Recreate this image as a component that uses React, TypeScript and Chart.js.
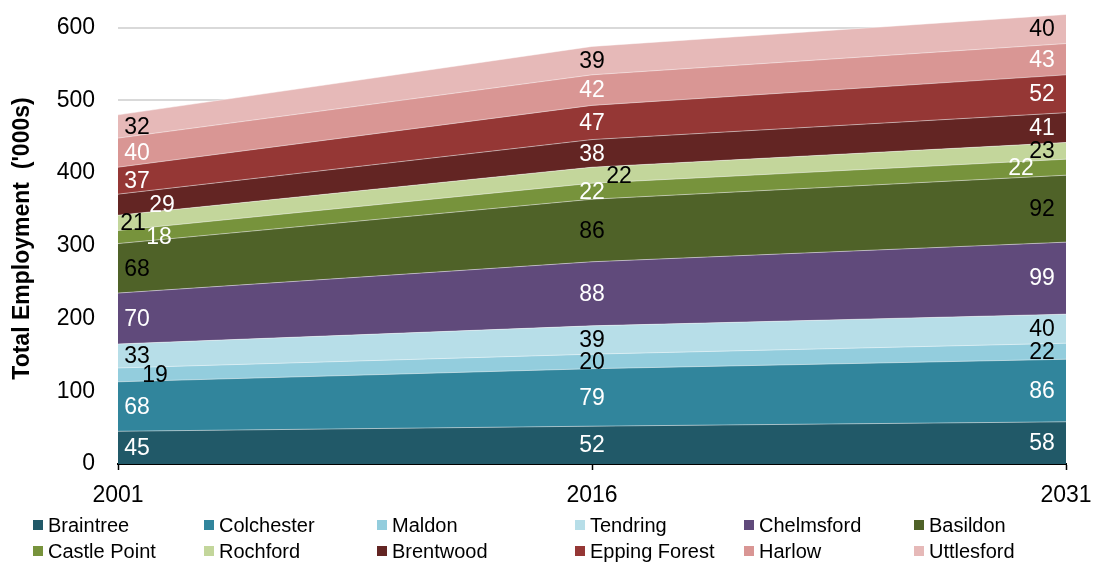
import React, { useEffect, useRef } from "react";
import { Chart, registerables } from "chart.js";

Chart.register(...registerables);

const years = ["2001", "2016", "2031"];

const braintree = [45, 52, 58];
const colchester = [68, 79, 86];
const maldon = [19, 20, 22];
const tendring = [33, 39, 40];
const chelmsford = [70, 88, 99];
const basildon = [68, 86, 92];
const castlePoint = [18, 22, 22];
const rochford = [21, 22, 23];
const brentwood = [29, 38, 41];
const eppingForest = [37, 47, 52];
const harlow = [40, 42, 43];
const uttlesford = [32, 39, 40];

const seriesNames = [
  "Braintree", "Colchester", "Maldon", "Tendring", "Chelmsford", "Basildon",
  "Castle Point", "Rochford", "Brentwood", "Epping Forest", "Harlow", "Uttlesford",
];
const seriesData = [
  braintree, colchester, maldon, tendring, chelmsford, basildon,
  castlePoint, rochford, brentwood, eppingForest, harlow, uttlesford,
];
const seriesColors = [
  "#215968", "#31859C", "#93CDDD", "#B7DEE8", "#604A7B", "#4F6228",
  "#77933C", "#C3D69B", "#632523", "#953735", "#D99694", "#E6B9B8",
];
const labelColors = [
  "#fff", "#fff", "#000", "#000", "#fff", "#000",
  "#fff", "#000", "#fff", "#fff", "#fff", "#000",
];

const yTickValues = [0, 100, 200, 300, 400, 500, 600];
const yAxisMax = 620;

const FONT = '"Liberation Sans", Arial, sans-serif';

// label placement tweaks (horizontal shift in px relative to default)
const baseDx = [19, 0, -24];
const labelShift: Record<string, number> = {
  "2-0": 18,
  "6-0": 22,
  "7-0": -4,
  "8-0": 25,
  "7-1": 27,
  "6-2": -21,
};

const legendCols = [33, 204, 377, 575, 744, 914];
const legendRows = [526, 552];

const labelPlugin = {
  id: "areaLabels",
  afterDatasetsDraw(chart: any) {
    const ctx = chart.ctx;
    const xs = chart.scales.x;
    const ys = chart.scales.y;
    ctx.save();
    ctx.font = `23px ${FONT}`;
    ctx.textAlign = "center";
    ctx.textBaseline = "middle";
    const cum = years.map(() => 0);
    seriesData.forEach((arr, si) => {
      arr.forEach((v, i) => {
        const mid = cum[i] + v / 2;
        cum[i] += v;
        const px = xs.getPixelForValue(i) + baseDx[i] + (labelShift[`${si}-${i}`] || 0);
        const py = ys.getPixelForValue(mid) + 1;
        ctx.fillStyle = labelColors[si];
        ctx.fillText(String(v), px, py);
      });
    });
    ctx.restore();
  },
};

const legendPlugin = {
  id: "customLegend",
  afterDraw(chart: any) {
    const ctx = chart.ctx;
    ctx.save();
    ctx.font = `20px ${FONT}`;
    ctx.textAlign = "left";
    ctx.textBaseline = "middle";
    seriesNames.forEach((name, i) => {
      const col = i % 6;
      const row = Math.floor(i / 6);
      const x = legendCols[col];
      const y = legendRows[row];
      ctx.fillStyle = seriesColors[i];
      ctx.fillRect(x, y - 6, 10, 10);
      ctx.fillStyle = "#000";
      ctx.fillText(name, x + 15, y);
    });
    ctx.restore();
  },
};

export default function App() {
  const canvasRef = useRef<HTMLCanvasElement | null>(null);

  useEffect(() => {
    if (!canvasRef.current) return;
    const chart = new Chart(canvasRef.current, {
      type: "line",
      data: {
        labels: years,
        datasets: seriesData.map((d, i) => ({
          label: seriesNames[i],
          data: d,
          backgroundColor: seriesColors[i],
          borderColor: "rgba(255,255,255,0.45)",
          borderWidth: 1,
          pointRadius: 0,
          fill: i === 0 ? "origin" : "-1",
          tension: 0,
        })),
      },
      options: {
        animation: false,
        responsive: false,
        devicePixelRatio: 1,
        layout: { padding: { top: 13, right: 30, left: 0, bottom: 0 } },
        plugins: {
          legend: { display: false },
          tooltip: { enabled: false },
        },
        scales: {
          x: {
            type: "category",
            offset: false,
            grid: {
              display: true,
              drawOnChartArea: false,
              drawTicks: true,
              tickLength: 6,
              tickColor: "#000",
              tickWidth: 1.5,
            },
            border: { display: true, color: "#000", width: 2 },
            ticks: {
              font: { size: 23, family: FONT },
              color: "#000",
              padding: 12,
              maxRotation: 0,
              autoSkip: false,
            },
            afterFit: (s: any) => {
              s.height = 99;
              s.paddingLeft = 0;
              s.paddingRight = 0;
            },
          },
          y: {
            stacked: true,
            min: 0,
            max: yAxisMax,
            afterBuildTicks: (s: any) => {
              s.ticks = yTickValues.map((v) => ({ value: v }));
            },
            ticks: {
              font: { size: 23, family: FONT },
              color: "#000",
              padding: 23,
            },
            grid: { color: "#d9d9d9", lineWidth: 2, drawTicks: false },
            border: { display: false },
            title: {
              display: true,
              text: "Total Employment  ('000s)",
              font: { size: 23, weight: "bold", family: FONT },
              color: "#000",
              padding: { top: 9, bottom: 0 },
            },
            afterFit: (s: any) => {
              s.width = 118;
              s.paddingTop = 0;
              s.paddingBottom = 0;
            },
          },
        },
      },
      plugins: [labelPlugin, legendPlugin],
    });
    return () => chart.destroy();
  }, []);

  return (
    <div style={{ position: "absolute", left: 0, top: 0, width: 1096, height: 563, background: "#fff" }}>
      <canvas ref={canvasRef} width={1096} height={563} style={{ display: "block" }} />
    </div>
  );
}
